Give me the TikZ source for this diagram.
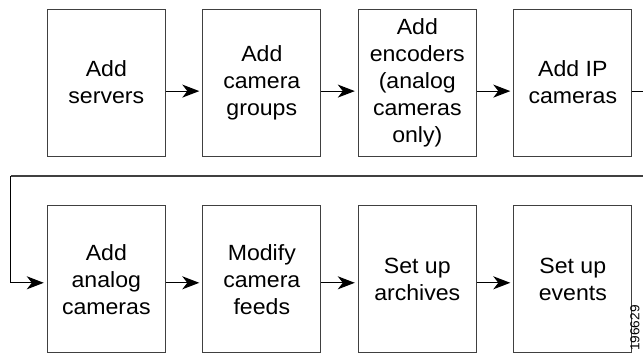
\documentclass[tikz,border=0pt]{standalone}
\usepackage{fontspec}
\setmainfont{Liberation Sans}[FakeStretch=1.05]
\usepackage{tikz}
\usetikzlibrary{positioning, arrows.meta}

\begin{document}
\begin{tikzpicture}[x=1pt, y=-1pt, node distance=36.5pt,
    stepbox/.style={draw=black!75, line width=1pt, minimum width=118pt, minimum height=147pt,
        align=center, inner sep=0pt, font=\fontsize{22}{27}\selectfont},
    flow/.style={-{Stealth[length=17pt, width=13pt, inset=5pt]}, line width=1.2pt, shorten >=3pt},
    back/.style={draw=black!75, line width=1.6pt}]
    \useasboundingbox (0,0) rectangle (643,354);
    \clip (0,0) rectangle (643,354);

    % first row
    \node[stepbox] (servers) at (106.3,82.6) {Add\\servers};
    \node[stepbox, right=of servers] (groups) {Add\\camera\\groups};
    \node[stepbox, right=of groups] (encoders) {Add\\encoders\\(analog\\cameras\\only)};
    \node[stepbox, right=of encoders] (ipcams) {Add IP\\cameras};

    % second row
    \node[stepbox] (analog) at (106.3,279.3) {Add\\analog\\cameras};
    \node[stepbox, right=of analog] (feeds) {Modify\\camera\\feeds};
    \node[stepbox, right=of feeds] (archives) {Set up\\archives};
    \node[stepbox, right=of archives] (events) {Set up\\events};

    \node[rotate=90, anchor=west, inner sep=0pt, font=\fontsize{13}{13}\selectfont] (figno) at (635,351) {196629};

    \draw[flow] ([yshift=-8.5pt]servers.east) -- ([yshift=-8.5pt]groups.west);
    \draw[flow] ([yshift=-8.5pt]groups.east) -- ([yshift=-8.5pt]encoders.west);
    \draw[flow] ([yshift=-8.5pt]encoders.east) -- ([yshift=-8.5pt]ipcams.west);

    \coordinate (rightbend) at (670,175.7);
    \coordinate (leftbend) at (10.7,175.7);
    \draw[line width=1.2pt] ([yshift=-8.5pt]ipcams.east) -| (rightbend);
    \draw[back] (rightbend) -- (leftbend);
    \draw[flow] (leftbend) |- ([yshift=-3.5pt]analog.west);

    \draw[flow] ([yshift=-3.5pt]analog.east) -- ([yshift=-3.5pt]feeds.west);
    \draw[flow] ([yshift=-3.5pt]feeds.east) -- ([yshift=-3.5pt]archives.west);
    \draw[flow] ([yshift=-3.5pt]archives.east) -- ([yshift=-3.5pt]events.west);
\end{tikzpicture}
\end{document}
